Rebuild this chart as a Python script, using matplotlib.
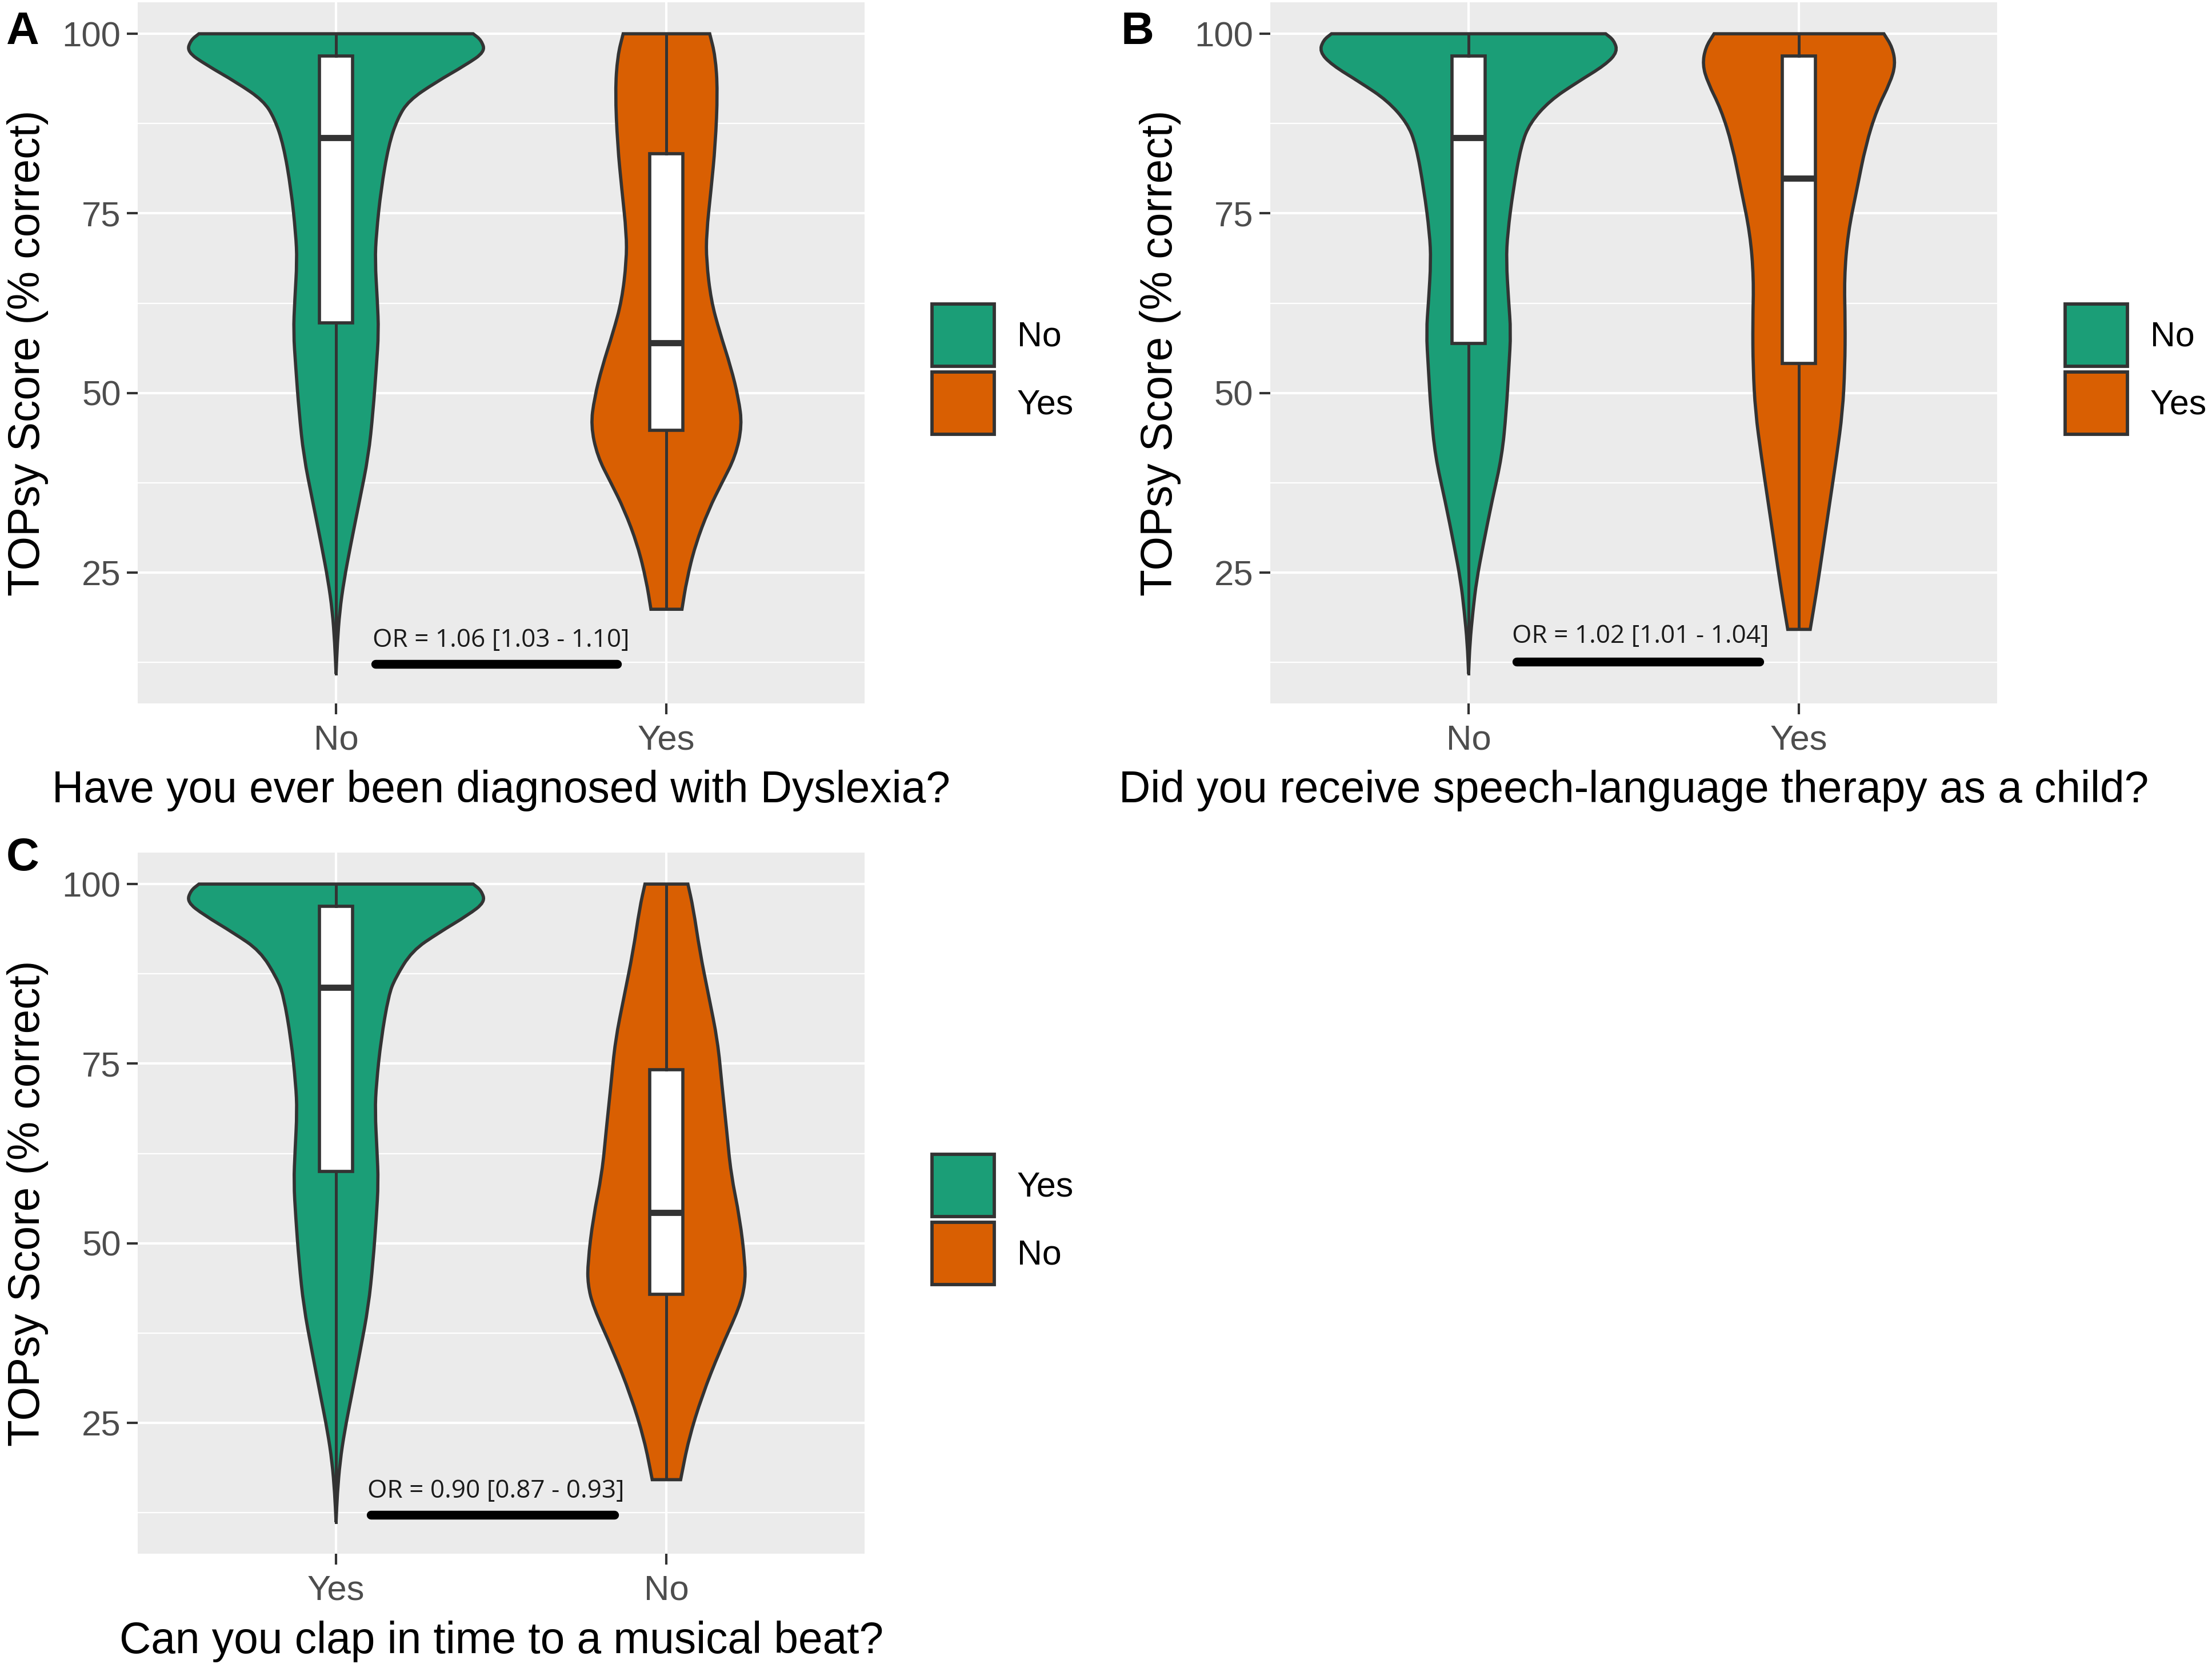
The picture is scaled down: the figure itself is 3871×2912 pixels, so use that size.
import matplotlib
matplotlib.use('Agg')
import matplotlib.pyplot as plt
from matplotlib.patches import Patch, PathPatch
from matplotlib.path import Path

plt.rcParams['font.family'] = ['Liberation Sans', 'DejaVu Sans']

GREEN = '#1B9E77'
ORANGE = '#D95F02'
EDGE = '#333333'

# violin outlines: score level -> half width (x units)
a_no_y = [100, 99.1, 97.5, 95.7, 93.2, 90.7, 88.2, 84.5, 78.3, 72.2, 68.4, 62.9, 58.5, 53.6, 47.4, 41.2, 35.0, 28.8, 23.9, 19.6, 15.2, 10.9]
a_no_w = [0.415, 0.44, 0.451, 0.394, 0.30, 0.22, 0.186, 0.159, 0.136, 0.122, 0.118, 0.125, 0.129, 0.122, 0.112, 0.098, 0.071, 0.044, 0.024, 0.011, 0.004, 0.0]
a_yes_y = [100, 96.9, 92.0, 84.5, 78.3, 72.2, 68.4, 62.9, 58.5, 53.6, 49.3, 45.5, 41.2, 37.5, 33.8, 28.8, 23.9, 19.9]
a_yes_w = [0.131, 0.148, 0.155, 0.148, 0.135, 0.121, 0.121, 0.135, 0.161, 0.195, 0.218, 0.229, 0.209, 0.168, 0.128, 0.087, 0.061, 0.047]

b_no_y = [100, 99.1, 97.5, 95.7, 93.2, 90.7, 87.6, 84.5, 78.3, 72.2, 68.4, 62.9, 58.5, 53.6, 47.4, 41.2, 35.0, 28.8, 23.9, 19.6, 15.2, 10.9]
b_no_w = [0.415, 0.44, 0.451, 0.415, 0.327, 0.246, 0.186, 0.159, 0.135, 0.118, 0.114, 0.121, 0.128, 0.122, 0.114, 0.101, 0.071, 0.044, 0.024, 0.013, 0.004, 0.0]
b_yes_y = [100, 98.1, 95.7, 93.2, 89.5, 84.5, 78.3, 72.2, 66.0, 59.8, 53.6, 47.4, 41.2, 35.0, 28.8, 22.6, 17.1]
b_yes_w = [0.257, 0.283, 0.292, 0.276, 0.236, 0.202, 0.175, 0.148, 0.137, 0.140, 0.139, 0.132, 0.114, 0.094, 0.074, 0.054, 0.034]

c_yes_y = [100, 99.1, 97.5, 95.7, 93.2, 90.7, 86.9, 84.5, 78.3, 72.2, 68.4, 62.9, 58.5, 53.6, 47.4, 41.2, 35.0, 28.8, 23.9, 19.6, 15.2, 11.2]
c_yes_w = [0.415, 0.44, 0.451, 0.40, 0.31, 0.23, 0.179, 0.159, 0.136, 0.122, 0.118, 0.124, 0.128, 0.122, 0.112, 0.098, 0.073, 0.047, 0.026, 0.012, 0.004, 0.0]
c_no_y = [100, 96.7, 90.6, 84.4, 78.2, 72.0, 65.9, 59.7, 53.5, 47.3, 44.3, 41.2, 35.0, 28.8, 22.7, 17.1]
c_no_w = [0.065, 0.081, 0.101, 0.128, 0.155, 0.168, 0.182, 0.195, 0.222, 0.238, 0.238, 0.222, 0.161, 0.108, 0.067, 0.043]

# box stats: q1, median, q3, low whisker, high whisker
a_box = [(59.8, 85.5, 96.9, 10.9, 100), (44.8, 57.0, 83.3, 19.9, 100)]
b_box = [(56.9, 85.5, 96.9, 10.9, 100), (54.1, 79.9, 96.9, 17.1, 100)]
c_box = [(60.0, 85.6, 96.9, 11.2, 100), (42.9, 54.3, 74.2, 17.1, 100)]

a_cats = ['No', 'Yes']
b_cats = ['No', 'Yes']
c_cats = ['Yes', 'No']

a_or = 'OR = 1.06 [1.03 - 1.10]'
b_or = 'OR = 1.02 [1.01 - 1.04]'
c_or = 'OR = 0.90 [0.87 - 0.93]'

a_title = 'Have you ever been diagnosed with Dyslexia?'
b_title = 'Did you receive speech-language therapy as a child?'
c_title = 'Can you clap in time to a musical beat?'
ylab = 'TOPsy Score (% correct)'


fig = plt.figure(figsize=(3871 / 300, 2912 / 300), dpi=300)


def side(pts):
    # smooth one side of the outline with quadratic curves through midpoints
    verts, codes = [], []
    mid = lambda p, q: ((p[0] + q[0]) / 2, (p[1] + q[1]) / 2)
    verts.append(mid(pts[0], pts[1]))
    codes.append(Path.LINETO)
    for i in range(1, len(pts) - 1):
        verts += [pts[i], mid(pts[i], pts[i + 1])]
        codes += [Path.CURVE3, Path.CURVE3]
    verts.append(pts[-1])
    codes.append(Path.LINETO)
    return verts, codes


def violin_path(c, yy, ww):
    right = [(c + w, y) for y, w in zip(yy, ww)]
    left = [(c - w, y) for y, w in zip(yy, ww)][::-1]
    verts = [right[0]]
    codes = [Path.MOVETO]
    v, k = side(right)
    verts += v
    codes += k
    verts.append(left[0])
    codes.append(Path.LINETO)
    v, k = side(left)
    verts += v
    codes += k
    verts.append(right[0])
    codes.append(Path.CLOSEPOLY)
    return Path(verts, codes)


def panel(rect, cats, profiles, boxes, or_txt, bar, txt_pos, title, leg_pos):
    ax = fig.add_axes(rect)
    ax.set_facecolor('#EBEBEB')
    for sp in ax.spines.values():
        sp.set_visible(False)
    for i, (yy, ww) in enumerate(profiles):
        col = [GREEN, ORANGE][i]
        ax.add_patch(PathPatch(violin_path(i + 1, yy, ww), facecolor=col,
                               edgecolor=EDGE, linewidth=1.35, zorder=2))
    stats = []
    for q1, med, q3, lo, hi in boxes:
        stats.append(dict(q1=q1, med=med, q3=q3, whislo=lo, whishi=hi, fliers=[]))
    ax.bxp(stats, positions=[1, 2], widths=0.1, patch_artist=True, showcaps=False,
           showfliers=False, manage_ticks=False,
           boxprops=dict(facecolor='white', edgecolor=EDGE, linewidth=1.35),
           medianprops=dict(color=EDGE, linewidth=2.6, solid_capstyle='butt'),
           whiskerprops=dict(color=EDGE, linewidth=1.2), zorder=3)
    ax.plot(bar[:2], [bar[2], bar[2]], color='black', lw=3.7,
            solid_capstyle='round', zorder=4)
    ax.text(txt_pos[0], txt_pos[1], or_txt, ha='center', va='baseline',
            fontsize=10.6, family=['Open Sans', 'DejaVu Sans'], color='#1a1a1a', zorder=4)

    ax.set_xlim(0.4, 2.6)
    ax.set_ylim(6.8, 104.4)
    ax.set_xticks([1, 2])
    ax.set_xticklabels(cats)
    ax.set_yticks([25, 50, 75, 100])
    ax.set_yticks([12.5, 37.5, 62.5, 87.5], minor=True)
    ax.set_axisbelow(True)
    ax.grid(which='major', color='white', lw=1.0)
    ax.grid(which='minor', axis='y', color='white', lw=0.55)
    ax.tick_params(which='major', length=4.5, width=1.0, color=EDGE,
                   labelsize=14.8, labelcolor='#4D4D4D')
    ax.tick_params(axis='x', pad=4.3)
    ax.tick_params(axis='y', pad=2.6)
    ax.tick_params(which='minor', length=0)

    ax.set_xlabel(title, fontsize=18.4)
    ax.xaxis.set_label_coords(0.5, -0.095)
    ax.set_ylabel(ylab, fontsize=18.4)
    ax.yaxis.set_label_coords(-0.1226, 0.5)

    handles = [Patch(facecolor=GREEN, edgecolor=EDGE, lw=1.4, label=cats[0]),
               Patch(facecolor=ORANGE, edgecolor=EDGE, lw=1.4, label=cats[1])]
    ax.legend(handles=handles, loc='upper left', bbox_to_anchor=leg_pos,
              bbox_transform=fig.transFigure, frameon=False, fontsize=14.6,
              handlelength=1.79, handleheight=2.38, handletextpad=0.66,
              labelspacing=0.164, borderpad=0, borderaxespad=0)
    return ax


panel([0.0623, 0.5773, 0.3286, 0.4214], a_cats, [(a_no_y, a_no_w), (a_yes_y, a_yes_w)],
      a_box, a_or, (1.12, 1.85, 12.25), (1.5, 14.7), a_title, (0.4213, 0.8173))
panel([0.5743, 0.5773, 0.3286, 0.4214], b_cats, [(b_no_y, b_no_w), (b_yes_y, b_yes_w)],
      b_box, b_or, (1.145, 1.88, 12.6), (1.52, 15.2), b_title, (0.9336, 0.8173))
panel([0.0623, 0.0663, 0.3286, 0.4214], c_cats, [(c_yes_y, c_yes_w), (c_no_y, c_no_w)],
      c_box, c_or, (1.105, 1.843, 12.2), (1.483, 14.6), c_title, (0.4213, 0.3063))

for lab, x, y in [('A', 11, 77), ('B', 1962, 77), ('C', 11, 1523)]:
    fig.text(x / 3871, 1 - y / 2912, lab, fontsize=19.2, fontweight='bold',
             va='baseline', ha='left')

fig.savefig('out.png', dpi=300, facecolor='white')
